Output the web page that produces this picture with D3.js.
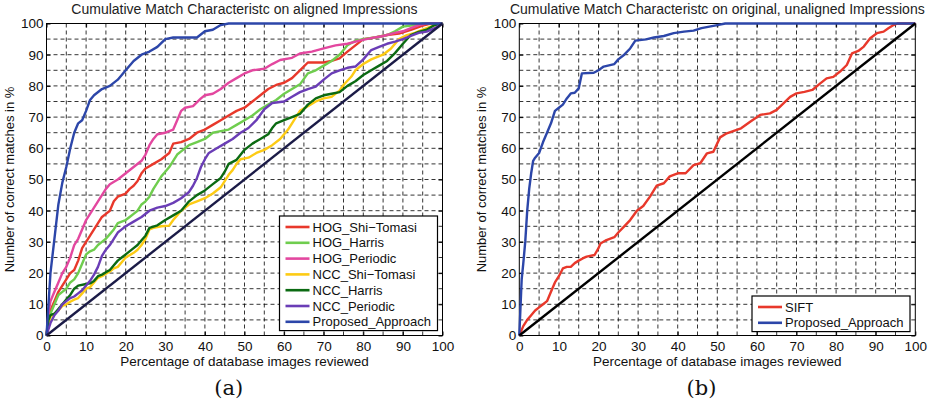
<!DOCTYPE html>
<html><head><meta charset="utf-8">
<script src="https://cdn.jsdelivr.net/npm/d3@7"></script>
<style>body{margin:0;background:#fff}svg{display:block}</style>
</head><body><svg id="c" width="929" height="410"></svg>
<script>
// ---------- DATA ----------
const xTicks = [0,10,20,30,40,50,60,70,80,90,100];
const yTicks = [0,10,20,30,40,50,60,70,80,90,100];
const titleA = "Cumulative Match Characteristc on aligned Impressions";
const titleB = "Cumulative Match Characteristc on original, unaligned Impressions";
const xLabel = "Percentage of database images reviewed";
const yLabel = "Number of correct matches in %";

const namesA = ["HOG_Shi\u2212Tomasi","HOG_Harris","HOG_Periodic","NCC_Shi\u2212Tomasi","NCC_Harris","NCC_Periodic","Proposed_Approach"];
const namesB = ["SIFT","Proposed_Approach"];

const hogShiTomasi = [[0,0],[0.5,5],[1,8],[2,11],[3,14],[4,16],[5,18],[6,20],[7,21],[8,24],[9,28],[10,30],[11,32],[12,34],[13,36],[14,38],[15,39],[16,40],[17,43],[18,44.5],[19,45],[20,45.5],[21,47],[22,48],[23,49.5],[24,52],[25,53.5],[27,55],[29,56.5],[31,58.5],[32,61.5],[34,62],[36,63],[38,65],[40,66],[42,67.5],[44,69],[46,70.5],[48,72],[50,73],[52,75],[54,77],[56,79],[58,80.3],[60,81],[62,82.5],[64,85],[66,87.5],[68,87.5],[70,87.5],[72,88],[74,88.8],[76,91],[78,93],[80,95],[83,95.5],[86,96.3],[89,96.8],[92,98],[95,99.3],[97,100],[100,100]];
const hogHarris = [[0,0],[0.5,4],[1,7],[2,10],[3,13],[4,14],[5,15],[6,17],[7,18],[8,20],[9,23],[10,26],[11,27],[12,27.5],[13,29],[14,30],[15,31],[16,32.5],[17,34],[18,36],[19,36.5],[20,37],[21,38],[22,39],[23,40],[24,42],[25,43],[26,44.5],[27,47],[28,49],[29,51],[30,52.5],[31,54],[32,56],[33,58],[34,59],[35,60],[36,61],[38,62],[40,63],[42,65],[44,65.5],[46,66],[48,67.5],[50,69],[52,70.5],[54,72.5],[56,74],[58,75.5],[60,77.5],[62,79],[64,80.5],[66,84],[68,85],[70,86.5],[72,88],[74,90],[76,93],[78,94.5],[80,95],[83,95.5],[86,96.3],[88,97.5],[90,99],[93,99.5],[95,100],[100,100]];
const hogPeriodic = [[0,0],[0.5,7],[1,11],[2,14],[3,17],[4,20],[5,22],[6,25],[7,29],[8,31],[9,34],[10,37],[11,39],[12,41],[13,43],[14,45],[15,47],[16,48.5],[18,50],[20,52],[22,54],[24,56],[25,58],[26,61],[27,63],[28,64.5],[30,65],[32,66],[33,69],[34,72],[35,73],[37,73.5],[39,76],[40,77],[42,77.5],[44,79],[46,81],[48,82.5],[50,84],[52,85],[55,85.5],[57,87],[59,88.3],[62,89],[64,90.4],[67,91],[70,92],[73,93],[76,93.5],[79,94.5],[82,95.3],[85,96],[88,97],[90,97.5],[92,98.5],[94,99.5],[96,100],[100,100]];
const nccShiTomasi = [[0,0],[0.5,4],[1,6],[2,7],[3,8],[4,9.5],[5,10],[6,10.8],[7,11.5],[8,12],[9,13.5],[10,15],[11,15.5],[12,17],[13,18.5],[14,19],[15,19.8],[16,20.5],[17,21.5],[18,22],[19,23.5],[20,25],[22,26.5],[23,27.5],[24,29],[25,31],[26,34],[27,34.5],[29,35],[31,35.2],[32,37],[33,38.5],[34,40],[36,42],[38,43],[40,44],[42,45.5],[44,47.5],[45,49.5],[46,51.5],[47,53],[48,55],[49,56.5],[51,57],[53,58.5],[55,59.5],[57,61],[59,63],[60,64.5],[61,66],[62,68],[63,70],[64,72],[66,73.5],[68,75],[70,76],[72,76.5],[74,78.5],[75,80.3],[77,83],[78,85],[80,87],[82,88.5],[85,90],[87,92],[89,95],[91,96.3],[93,97],[95,98],[97,99],[100,100]];
const nccHarris = [[0,0],[0.5,5],[1,6.5],[2,7],[3,8.5],[4,10],[5,11.5],[6,13],[7,15],[8,16],[10,16.5],[11,16.7],[12,17.5],[13,19],[14,19.5],[15,20.3],[16,21],[17,22.5],[18,24],[19,25],[20,26],[22,28],[23,29],[24,30.5],[25,32],[26,34.5],[28,35.3],[30,37],[32,38.5],[34,40],[35,41.5],[36,43],[38,45],[40,46.5],[42,48.5],[44,50.5],[45,52.5],[46,55],[48,56.3],[50,59.5],[52,61.5],[54,63],[56,64.5],[57,66.5],[58,68],[60,69],[62,70],[64,71],[66,74],[68,76],[70,77],[72,77.5],[74,78],[76,80],[78,81.5],[80,83.5],[82,85],[84,86.5],[86,88],[88,90.5],[90,93.5],[92,96.3],[94,97.3],[96,98],[98,99.5],[100,100]];
const nccPeriodic = [[0,0],[0.5,2],[1,4],[2,6.5],[3,8],[4,10],[5,11],[6,12],[7,12.5],[8,13.5],[9,14.5],[10,16],[11,17.5],[12,19.5],[13,22],[14,25.5],[15,27.5],[16,29],[17,31],[18,33],[19,34],[20,35],[22,36.5],[24,38],[26,40],[28,41],[30,41.5],[32,42.5],[34,44],[36,46],[37,48],[38,50.5],[39,54],[40,56.5],[41,58.5],[43,60],[45,61.5],[47,63],[49,65],[51,66.5],[53,69],[55,72.5],[57,74.5],[60,75],[62,76.5],[64,78],[66,79],[68,79.8],[70,82],[72,84],[74,85],[76,85.8],[78,86.2],[80,88.5],[82,91.5],[84,92.5],[86,93.5],[88,94.2],[90,95],[92,96],[94,97],[96,97.4],[98,98.5],[100,100]];
const proposedA = [[0,0],[0.5,10],[1,20],[2,31],[3,42],[4,49],[5,54],[6,60],[7,65],[8,68],[9,69],[10,72],[11,75.5],[12,77],[14,79],[16,80],[18,82],[20,85],[22,88],[24,90],[26,91],[28,92.5],[30,95],[32,95.5],[35,95.5],[38,95.5],[40,97.5],[42,98],[44,99.5],[46,100],[100,100]];
const sift = [[0,0],[1,3],[2,5],[3,6.5],[4,8],[5,9],[6,10],[7,11],[8,14],[9,17],[10,19],[11,21.5],[12,22],[13,22],[14,23.2],[15,24],[16,24.7],[17,25.3],[19,25.8],[20,28],[20.5,29.5],[22,30.6],[24,31.5],[25,33],[26.5,35],[28,37],[29.7,40],[31.3,41.5],[33,44.5],[34.7,48],[36.5,48.8],[38,51],[40,52],[42,52],[44,54.6],[45.7,55.2],[47.4,58.4],[49,58.9],[50.7,63.5],[52.4,64.8],[54,65.5],[56,66.4],[58.3,68.5],[60.8,70.7],[63.3,71.2],[65,72.3],[66.7,74.4],[68.4,76.5],[70,77.6],[72,78.1],[74,78.7],[76,80.8],[77.6,82.4],[79.3,82.9],[81,84.6],[82.7,86.7],[84,90.4],[85.6,91.2],[87,92.6],[88.6,95.3],[90.3,96.9],[92,97.4],[93.2,98.5],[94.5,99.5],[95.5,100],[100,100]];
const proposedB = [[0,0],[0.3,9],[0.6,18],[1,23],[1.5,30],[2,40],[2.5,47],[3,52],[3.5,56],[4,57],[5,58.5],[6,62],[7,65],[8,68],[9,72],[10,73],[11,74],[12,76],[13,77.6],[14,77.8],[15,79.2],[15.8,84],[18.8,84.2],[20,85],[21.3,86.2],[24,87],[25,88.5],[26.5,90],[28,92],[29.3,94.5],[32,94.9],[34,95.5],[36.5,96],[39,96.9],[41.6,97.4],[44,97.7],[46,98.5],[48,99],[50,99.5],[52,100],[100,100]];
const diagonal = [[0,0],[100,100]];

const colorsA = ["#e8382b","#6fcd4e","#e3479f","#fdcb14","#0b6a12","#6a3db6","#2c46a9"];
const colorsB = ["#e8382b","#2c46a9"];

// ---------- DRAW ----------
const svg = d3.select("#c");
const font = "'Liberation Sans', Arial, Helvetica, sans-serif";

function panel(cfg){
  const g = svg.append("g");
  const x = d3.scaleLinear().domain([0,100]).range([cfg.x0, cfg.x0+396]);
  const y = d3.scaleLinear().domain([0,100]).range([335.5, 23.5]);
  const minor = d3.range(5,100,5);
  // grid
  g.append("g").selectAll("line").data(minor).join("line")
    .attr("x1",d=>x(d)).attr("x2",d=>x(d)).attr("y1",y(0)).attr("y2",y(100))
    .attr("stroke","#000").attr("stroke-width",0.8).attr("stroke-dasharray","4,3");
  g.append("g").selectAll("line").data(minor).join("line")
    .attr("y1",d=>y(d)).attr("y2",d=>y(d)).attr("x1",x(0)).attr("x2",x(100))
    .attr("stroke","#000").attr("stroke-width",0.8).attr("stroke-dasharray","4,3");
  // axes
  const ax = g.append("g").attr("transform",`translate(0,${y(0)})`)
    .call(d3.axisBottom(x).tickValues(xTicks).tickSize(-4).tickPadding(5.5));
  const ay = g.append("g").attr("transform",`translate(${x(0)},0)`)
    .call(d3.axisLeft(y).tickValues(yTicks).tickSize(-4).tickPadding(3));
  const at = g.append("g").attr("transform",`translate(0,${y(100)})`)
    .call(d3.axisTop(x).tickValues(xTicks).tickSize(-4).tickFormat(""));
  const ar = g.append("g").attr("transform",`translate(${x(100)},0)`)
    .call(d3.axisRight(y).tickValues(yTicks).tickSize(-4).tickFormat(""));
  [ax,ay,at,ar].forEach(a=>{
    a.select(".domain").remove();
    a.selectAll("line").attr("stroke","#000");
    a.selectAll("text").attr("font-family",font).attr("font-size",13.5).attr("fill","#111");
  });
  g.append("rect").attr("x",x(0)).attr("y",y(100)).attr("width",396).attr("height",312)
    .attr("fill","none").attr("stroke","#000").attr("stroke-width",1);
  // lines
  const line = d3.line().x(d=>x(d[0])).y(d=>y(d[1]));
  cfg.series.forEach((s,i)=>{
    g.append("path").attr("d",line(s)).attr("fill","none").attr("stroke",cfg.colors[i])
      .attr("stroke-width",2.4).attr("stroke-linejoin","round");
  });
  g.append("path").attr("d",line(diagonal)).attr("fill","none").attr("stroke",cfg.diagColor).attr("stroke-width",2.4);
  // title & labels
  g.append("text").attr("x",x(50)).attr("y",13.5).attr("text-anchor","middle")
    .attr("font-family",font).attr("font-size",14).attr("fill","#222").text(cfg.title);
  g.append("text").attr("x",x(50)).attr("y",365.5).attr("text-anchor","middle")
    .attr("font-family",font).attr("font-size",13.5).attr("fill","#111").text(xLabel);
  g.append("text").attr("transform",`translate(${cfg.x0-33},${y(50)}) rotate(-90)`).attr("text-anchor","middle")
    .attr("font-family",font).attr("font-size",13).attr("fill","#111").text(yLabel);
  g.append("text").attr("x",x(46)).attr("y",395).attr("text-anchor","middle")
    .attr("font-family","'DejaVu Serif','Liberation Serif',serif").attr("font-size",21).attr("fill","#111").text(cfg.cap);
  // legend
  const L = cfg.legend;
  const n = cfg.names.length;
  const lg = g.append("g");
  lg.append("rect").attr("x",L.x).attr("y",L.y).attr("width",L.w).attr("height",n*15.8+4)
    .attr("fill","#fff").attr("stroke","#000").attr("stroke-width",1.2);
  cfg.names.forEach((nm,i)=>{
    const yy = L.y+11+i*15.8;
    lg.append("line").attr("x1",L.x+6).attr("x2",L.x+30).attr("y1",yy).attr("y2",yy)
      .attr("stroke",cfg.colors[i]).attr("stroke-width",2.6);
    lg.append("text").attr("x",L.x+33).attr("y",yy+4.6).attr("font-family",font)
      .attr("font-size",13).attr("fill","#111").text(nm);
  });
}

panel({x0:46.5, title:titleA, cap:"(a)", names:namesA, colors:colorsA, diagColor:"#1b1b47",
  series:[hogShiTomasi,hogHarris,hogPeriodic,nccShiTomasi,nccHarris,nccPeriodic,proposedA],
  legend:{x:279.5,y:216,w:158}});
panel({x0:519.3, title:titleB, cap:"(b)", names:namesB, colors:colorsB, diagColor:"#000",
  series:[sift,proposedB], legend:{x:752,y:296,w:158}});
</script></body></html>
